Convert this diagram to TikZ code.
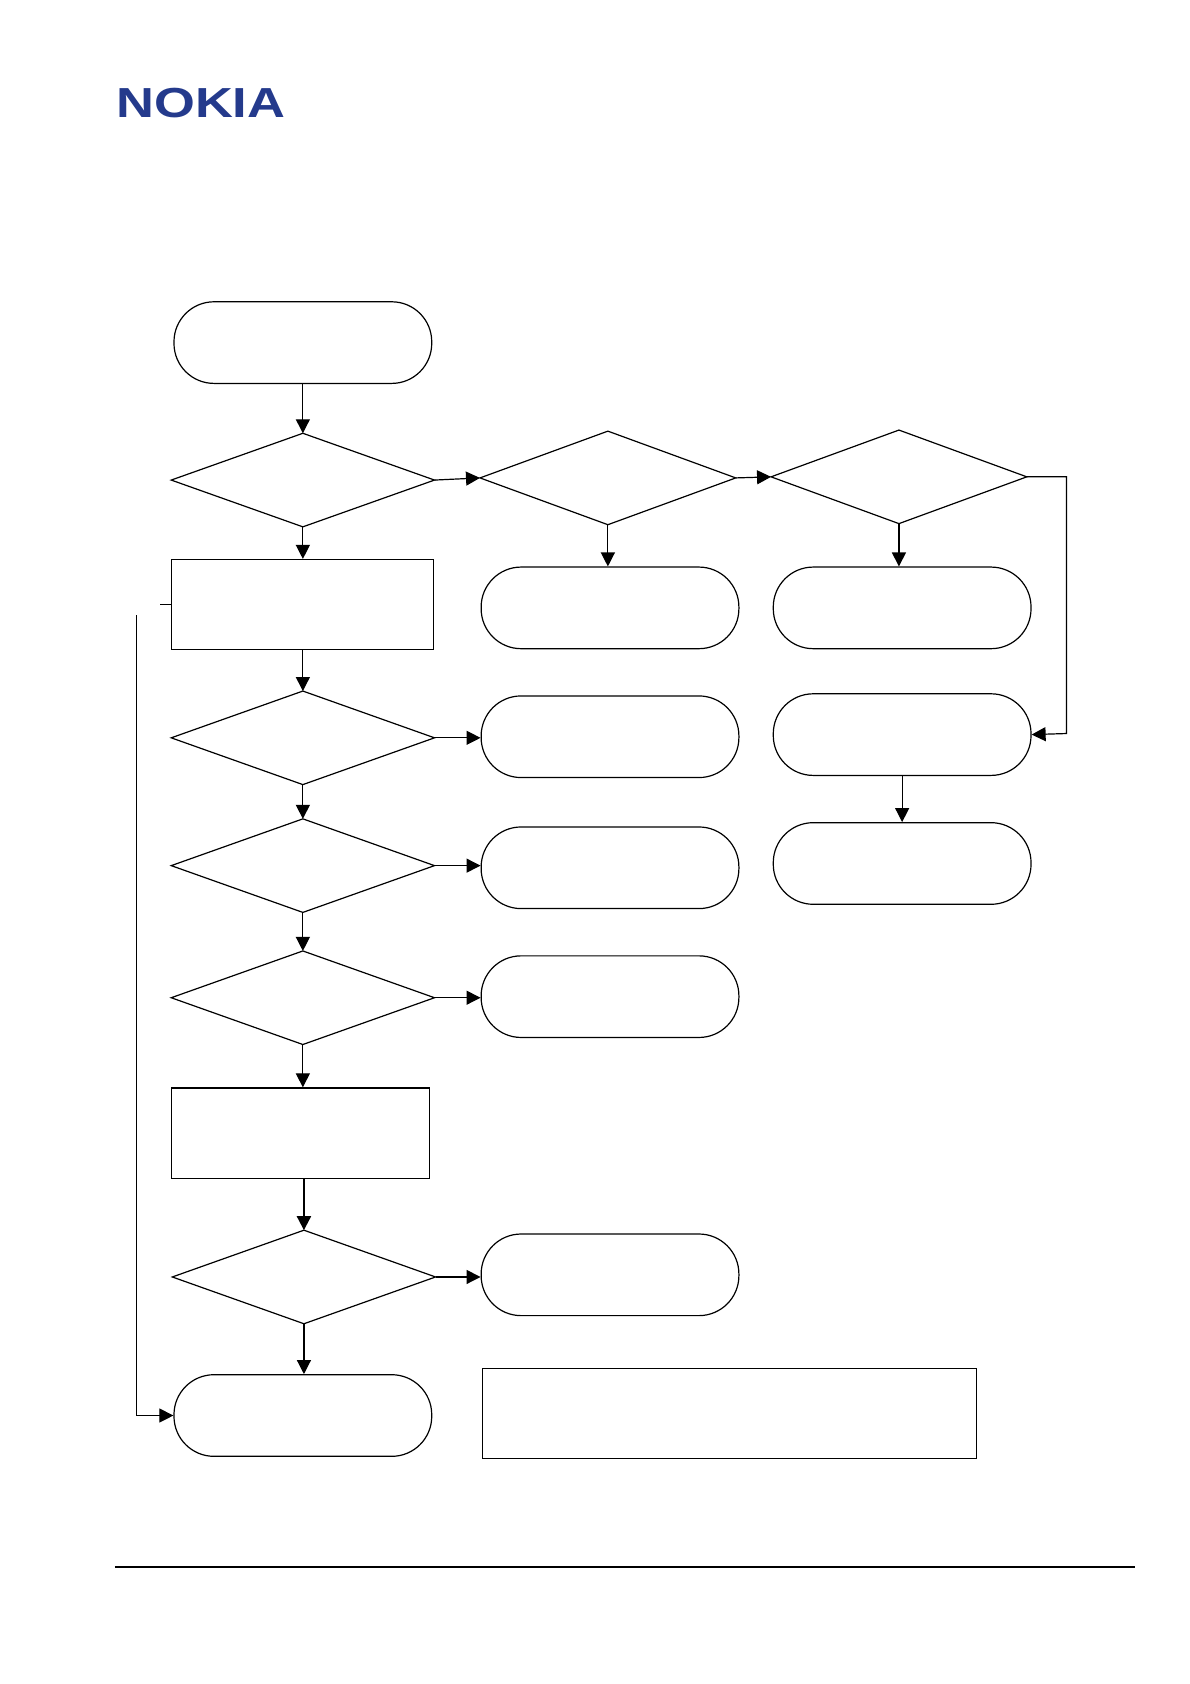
\documentclass[tikz,border=0pt]{standalone}
\usepackage{fontspec}
\setmainfont{Liberation Sans}
\usetikzlibrary{arrows.meta}
\definecolor{nokiablue}{HTML}{243A8C}
\tikzset{
  every path/.style={line width=0.6pt},
  box/.style={draw, rectangle, inner sep=0pt, minimum width=#1*0.537pt, minimum height=84*0.537pt},
  term/.style={draw, rectangle, rounded corners=20pt, inner sep=0pt, minimum width=240*0.537pt, minimum height=76*0.537pt},
  dia/.style={rectangle, inner sep=0pt, minimum width=#1*0.537pt, minimum height=86*0.537pt},
  arr/.style={-{Triangle[length=7pt,width=7pt]}},
}
\newcommand{\diam}[4]{\node[dia=#4] (#1) at (#2,#3) {};
  \draw (#1.north)--(#1.east)--(#1.south)--(#1.west)--cycle;}
\begin{document}
\begin{tikzpicture}[x=0.537pt,y=-0.537pt]
\useasboundingbox (0,0) rectangle (1108,1568);
\node[font=\bfseries\fontsize{21}{21}\selectfont, text=nokiablue, xscale=1.25, inner sep=0pt] (logo) at (187,96) {NOKIA};
\coordinate (hl) at (107,1459); \coordinate (hr) at (1057,1459);
\draw (hl) -- (hr);
% left column
\node[term] (t1) at (282,319) {};
\diam{d1}{282}{447}{244}
\node[box=244] (b1) at (282,563) {};
\diam{d4}{282}{687}{244}
\diam{d5}{282}{806}{244}
\diam{d6}{282}{929}{244}
\node[box=240] (b2) at (280,1055) {};
\diam{d7}{283}{1189}{244}
\node[term] (t10) at (282,1318) {};
% middle column
\diam{d2}{566}{445}{237}
\node[term] (t2) at (568,566) {};
\node[term] (t4) at (568,686) {};
\node[term] (t6) at (568,808) {};
\node[term] (t8) at (568,928) {};
\node[term] (t9) at (568,1187) {};
\node[box=460] (b3) at (679,1316) {};
% right column
\diam{d3}{837}{444}{237}
\node[term] (t3) at (840,566) {};
\node[term] (t5) at (840,684) {};
\node[term] (t7) at (840,804) {};
% connectors
\draw[arr] (t1) -- (d1.north);
\draw[arr] (d1.east) -- (d2.west);
\draw[arr] (d2.east) -- (d3.west);
\coordinate (r1) at (993,444); \coordinate (r2) at (993,683);
\draw[arr] (d3.east) -- (r1) -- (r2) -- (t5.east);
\draw[arr] (d1.south) -- (b1.north);
\draw[arr] (d2.south) -- (d2.south |- t2.north);
\draw[arr] (d3.south) -- (d3.south |- t3.north);
\draw[arr] (b1.south) -- (d4.north);
\draw[arr] (d4.east) -- (d4.east -| t4.west);
\draw[arr] (d4.south) -- (d5.north);
\draw[arr] (d5.east) -- (d5.east -| t6.west);
\draw[arr] (d5.south) -- (d6.north);
\draw[arr] (d6.east) -- (d6.east -| t8.west);
\draw[arr] (d6.south) -- (d6.south |- b2.north);
\draw[arr, line width=1pt] (b2.south -| d7.north) -- (d7.north);
\draw[arr] (d7.east) -- (d7.east -| t9.west);
\draw[arr] (d7.south) -- (d7.south |- t10.north);
\draw[arr] (t5.south) -- (t5.south |- t7.north);
\coordinate (s1) at (149,563);
\draw (b1.west) -- (s1);
\coordinate (l1) at (127,573); \coordinate (l2) at (127,1318);
\draw[arr] (l1) -- (l2) -- (t10.west);
\end{tikzpicture}
\end{document}
